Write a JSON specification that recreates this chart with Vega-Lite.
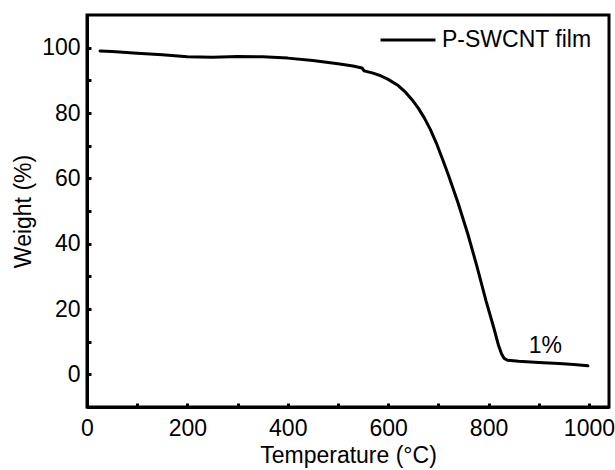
{
  "$schema": "https://vega.github.io/schema/vega-lite/v6.json",
  "width": 522,
  "height": 392,
  "autosize": {"type": "none"},
  "padding": {"left": 87, "top": 15, "right": 6, "bottom": 63},
  "config": {
    "font": "Liberation Sans",
    "view": {"stroke": "black", "strokeWidth": 3},
    "axis": {
      "grid": false,
      "domainColor": "black",
      "domainWidth": 3,
      "tickColor": "black",
      "tickWidth": 3,
      "labelColor": "black",
      "titleColor": "black",
      "labelFont": "Liberation Sans",
      "titleFont": "Liberation Sans",
      "labelFontSize": 23,
      "titleFontSize": 23,
      "titleFontWeight": "normal",
      "labelFlush": false
    }
  },
  "resolve": {"axis": {"x": "independent", "y": "independent"}},
  "datasets": {
    "tga": [
      {"T": 26, "W": 99.0},
      {"T": 50, "W": 98.8},
      {"T": 100, "W": 98.3},
      {"T": 150, "W": 97.8},
      {"T": 200, "W": 97.2},
      {"T": 250, "W": 97.1},
      {"T": 300, "W": 97.3},
      {"T": 350, "W": 97.2},
      {"T": 400, "W": 96.8},
      {"T": 450, "W": 96.1},
      {"T": 500, "W": 95.1},
      {"T": 530, "W": 94.4},
      {"T": 548, "W": 93.8},
      {"T": 552, "W": 92.9},
      {"T": 570, "W": 92.2},
      {"T": 585, "W": 91.4},
      {"T": 600, "W": 90.3},
      {"T": 620, "W": 88.4},
      {"T": 635, "W": 86.3},
      {"T": 648, "W": 84.0},
      {"T": 660, "W": 81.5},
      {"T": 672, "W": 78.5},
      {"T": 684, "W": 75.0},
      {"T": 696, "W": 70.8},
      {"T": 708, "W": 66.0},
      {"T": 720, "W": 61.0},
      {"T": 739, "W": 52.6},
      {"T": 759, "W": 42.8},
      {"T": 777, "W": 33.0},
      {"T": 795, "W": 22.5},
      {"T": 810, "W": 14.5},
      {"T": 820, "W": 8.8},
      {"T": 826, "W": 6.2},
      {"T": 831, "W": 4.9},
      {"T": 838, "W": 4.3},
      {"T": 860, "W": 4.0},
      {"T": 900, "W": 3.6},
      {"T": 940, "W": 3.3},
      {"T": 970, "W": 3.0},
      {"T": 998, "W": 2.6}
    ],
    "note": [{"T": 913, "W": 6.6, "label": "1%"}]
  },
  "layer": [
    {
      "data": {"name": "tga"},
      "transform": [{"calculate": "'P-SWCNT film'", "as": "series"}],
      "mark": {"type": "line", "strokeWidth": 3, "strokeJoin": "round", "strokeCap": "round"},
      "encoding": {
        "x": {
          "field": "T",
          "type": "quantitative",
          "scale": {"domain": [0, 1040], "nice": false, "zero": false},
          "axis": {
            "orient": "bottom",
            "title": "Temperature (°C)",
            "format": "d",
            "values": [0, 200, 400, 600, 800, 1000],
            "ticks": false,
            "labelPadding": 10,
            "titlePadding": 4
          }
        },
        "y": {
          "field": "W",
          "type": "quantitative",
          "scale": {"domain": [-10, 110], "nice": false, "zero": false},
          "axis": {
            "orient": "left",
            "title": "Weight (%)",
            "values": [0, 20, 40, 60, 80, 100],
            "ticks": false,
            "labelPadding": 7,
            "titlePadding": 6
          }
        },
        "color": {
          "field": "series",
          "type": "nominal",
          "scale": {"domain": ["P-SWCNT film"], "range": ["black"]},
          "legend": {
            "title": null,
            "orient": "none",
            "legendX": 292,
            "legendY": -4,
            "symbolType": "stroke",
            "symbolSize": 3025,
            "symbolStrokeWidth": 3,
            "labelFontSize": 23,
            "labelFont": "Liberation Sans",
            "labelColor": "black",
            "labelOffset": 5
          }
        }
      }
    },
    {
      "data": {"name": "note"},
      "mark": {"type": "text", "fontSize": 23, "font": "Liberation Sans", "color": "black", "align": "center", "baseline": "alphabetic"},
      "encoding": {
        "x": {
          "field": "T",
          "type": "quantitative",
          "axis": {
            "orient": "bottom",
            "title": null,
            "labels": false,
            "domain": false,
            "values": [0, 100, 200, 300, 400, 500, 600, 700, 800, 900, 1000],
            "offset": -4,
            "tickSize": 5
          }
        },
        "y": {
          "field": "W",
          "type": "quantitative",
          "axis": {
            "orient": "left",
            "title": null,
            "labels": false,
            "domain": false,
            "values": [0, 10, 20, 30, 40, 50, 60, 70, 80, 90, 100],
            "offset": -4,
            "tickSize": 5
          }
        },
        "text": {"field": "label"}
      }
    }
  ]
}
